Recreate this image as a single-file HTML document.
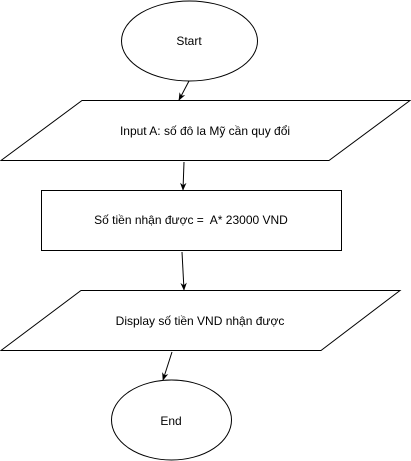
<!DOCTYPE html>
<html><head><meta charset="utf-8"><style>
html,body{margin:0;padding:0;background:#fff;}
svg{display:block;}
text{font-family:"Liberation Sans",Arial,sans-serif;font-size:12px;fill:#000;white-space:pre;}
</style></head><body>
<svg width="411" height="461" viewBox="0 0 411 461" xmlns="http://www.w3.org/2000/svg">
<defs>
<marker id="a" viewBox="0 0 10 10" refX="9" refY="5" markerWidth="8" markerHeight="8" orient="auto" markerUnits="userSpaceOnUse">
<path d="M0,1 L10,5 L0,9 L3,5 Z" fill="#000"/>
</marker>
</defs>
<g fill="#fff" stroke="#000" stroke-width="1">
<ellipse cx="189.5" cy="41" rx="68" ry="40"/>
<polygon points="82,100.5 410,100.5 329,160.5 1,160.5"/>
<rect x="41.5" y="190.5" width="300" height="60"/>
<polygon points="81,290.5 400,290.5 321,350.5 1,350.5"/>
<ellipse cx="171.5" cy="420" rx="60" ry="40"/>
</g>
<g stroke="#000" stroke-width="1" fill="none">
<line x1="189" y1="81" x2="179" y2="100" marker-end="url(#a)"/>
<line x1="184" y1="162" x2="183" y2="190" marker-end="url(#a)"/>
<line x1="182" y1="252" x2="184" y2="290" marker-end="url(#a)"/>
<line x1="172" y1="352" x2="163" y2="380" marker-end="url(#a)"/>
</g>
<text x="189" y="45" text-anchor="middle">Start</text>
<text x="205" y="135" text-anchor="middle">Input A: số đô la Mỹ cần quy đổi</text>
<text x="191" y="224" text-anchor="middle">Số tiền nhận được =&#160; A* 23000 VND</text>
<text x="200" y="325" text-anchor="middle">Display số tiền VND nhận được</text>
<text x="171" y="425" text-anchor="middle">End</text>
</svg>
</body></html>
